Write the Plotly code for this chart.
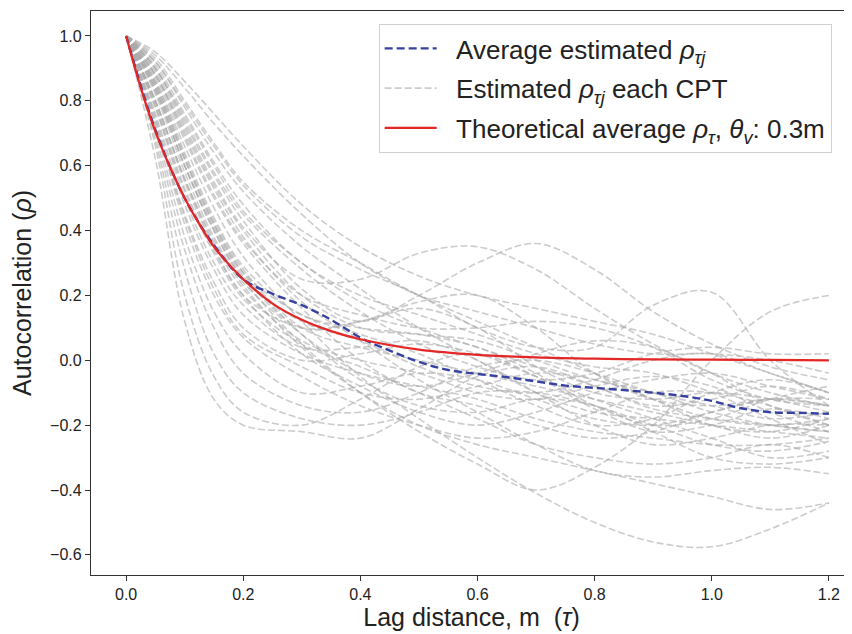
import plotly.graph_objects as go

# Lag distance grid (m)
lag = [0.0, 0.05, 0.1, 0.15, 0.2, 0.3, 0.4, 0.5, 0.6, 0.7, 0.8, 0.9, 1.0, 1.1, 1.2]

# Estimated autocorrelation for each CPT
cpt_01 = [1, .62, .12, -.12, -.20, -.22, -.24, -.15, -.05, -.02, -.08, -.15, -.18, -.20, -.22]
cpt_02 = [1, .66, .20, -.05, -.16, -.20, -.12, -.02, .02, -.05, -.15, -.22, -.20, -.15, -.18]
cpt_03 = [1, .68, .28, .02, -.10, -.18, -.20, -.16, -.10, -.10, -.14, -.20, -.26, -.28, -.25]
cpt_04 = [1, .72, .38, .15, .02, -.10, -.08, -.04, -.06, -.12, -.18, -.20, -.16, -.12, -.14]
cpt_05 = [1, .74, .42, .20, .07, -.05, -.14, -.20, -.24, -.22, -.16, -.10, -.10, -.14, -.20]
cpt_06 = [1, .75, .45, .24, .10, .00, .02, .05, .02, -.05, -.12, -.18, -.24, -.30, -.28]
cpt_07 = [1, .73, .44, .22, .08, -.02, -.10, -.12, -.08, -.04, -.06, -.12, -.20, -.22, -.18]
cpt_08 = [1, .78, .52, .33, .19, .05, -.02, -.10, -.18, -.26, -.30, -.32, -.30, -.26, -.30]
cpt_09 = [1, .80, .55, .35, .20, .10, .12, .16, .10, -.02, -.10, -.12, -.10, -.12, -.16]
cpt_10 = [1, .80, .56, .36, .22, .06, .00, -.04, -.10, -.12, -.08, -.05, -.08, -.16, -.22]
cpt_11 = [1, .79, .53, .34, .20, .02, -.08, -.16, -.20, -.16, -.10, -.06, -.04, -.08, -.12]
cpt_12 = [1, .85, .63, .43, .28, .10, .04, .00, -.04, -.08, -.12, -.16, -.20, -.24, -.20]
cpt_13 = [1, .84, .60, .40, .25, .12, .06, -.02, -.08, -.10, -.06, .00, .02, -.04, -.10]
cpt_14 = [1, .86, .64, .44, .29, .14, .10, .08, .04, -.04, -.14, -.20, -.18, -.12, -.08]
cpt_15 = [1, .85, .62, .42, .27, .08, -.06, -.14, -.16, -.12, -.14, -.22, -.30, -.32, -.30]
cpt_16 = [1, .83, .60, .41, .26, .10, .12, .18, .20, .10, -.04, -.12, -.14, -.12, -.14]
cpt_17 = [1, .88, .70, .53, .38, .18, .06, -.06, -.16, -.26, -.34, -.36, -.34, -.33, -.35]
cpt_18 = [1, .88, .71, .54, .40, .20, .10, .08, .06, .00, -.06, -.10, -.16, -.20, -.22]
cpt_19 = [1, .90, .73, .57, .43, .22, .12, .20, .30, .36, .28, .15, .05, -.02, -.06]
cpt_20 = [1, .89, .72, .55, .41, .25, .25, .33, .35, .28, .16, .05, -.04, -.10, -.14]
cpt_21 = [1, .92, .78, .64, .52, .35, .22, .10, .00, -.10, -.16, -.18, -.20, -.22, -.24]
cpt_22 = [1, .92, .79, .66, .54, .38, .28, .20, .10, .04, .04, .17, .21, .00, -.14]
cpt_23 = [1, .93, .80, .67, .55, .40, .30, .20, .12, .04, -.04, -.12, -.18, -.20, -.18]
cpt_24 = [1, .94, .84, .73, .63, .45, .30, .20, .15, .10, .05, .02, .02, .00, -.04]
cpt_25 = [1, .95, .86, .76, .66, .48, .35, .26, .20, .16, .12, .08, .02, -.04, -.10]
cpt_26 = [1, .83, .60, .40, .25, .05, -.10, -.22, -.32, -.40, -.33, -.20, .00, .15, .20]
cpt_27 = [1, .86, .66, .47, .32, .12, -.05, -.18, -.30, -.41, -.50, -.56, -.575, -.52, -.44]
cpt_28 = [1, .80, .56, .37, .23, .04, -.10, -.20, -.26, -.30, -.34, -.38, -.42, -.46, -.44]
cpt_29 = [1, .90, .74, .58, .45, .28, .15, .05, -.02, -.06, -.04, .02, .04, .02, .02]
cpt_30 = [1, .87, .68, .50, .36, .16, .00, -.10, -.14, -.20, -.24, -.22, -.16, -.12, -.12]
cpt_31 = [1, .82, .58, .38, .24, .08, -.04, -.08, -.04, .02, .06, .04, -.04, -.14, -.20]
cpt_32 = [1, .76, .48, .28, .14, .02, -.04, -.08, -.12, -.18, -.22, -.24, -.26, -.26, -.24]
cpt_33 = [1, .70, .34, .10, -.04, -.14, -.16, -.10, -.02, .00, -.04, -.10, -.14, -.18, -.16]
cpt_34 = [1, .90, .75, .60, .46, .30, .18, .10, .04, -.02, -.08, -.14, -.12, -.08, -.12]
cpt_35 = [1, .84, .62, .42, .27, .14, .08, .02, -.06, -.14, -.20, -.18, -.10, -.06, -.10]
cpt_36 = [1, .78, .50, .30, .17, .04, .04, .06, .00, -.10, -.20, -.26, -.24, -.20, -.20]
cpt_37 = [1, .88, .69, .51, .37, .20, .14, .10, .10, .12, .10, .04, -.06, -.12, -.14]
cpt_38 = [1, .91, .76, .61, .48, .30, .20, .14, .08, .02, -.02, -.04, -.10, -.18, -.26]

cpt_series = [cpt_01, cpt_02, cpt_03, cpt_04, cpt_05, cpt_06, cpt_07, cpt_08, cpt_09, cpt_10,
              cpt_11, cpt_12, cpt_13, cpt_14, cpt_15, cpt_16, cpt_17, cpt_18, cpt_19, cpt_20,
              cpt_21, cpt_22, cpt_23, cpt_24, cpt_25, cpt_26, cpt_27, cpt_28, cpt_29, cpt_30,
              cpt_31, cpt_32, cpt_33, cpt_34, cpt_35, cpt_36, cpt_37, cpt_38]

# Average estimated autocorrelation
avg_lag = [0.0, 0.05, 0.1, 0.15, 0.2, 0.25, 0.3, 0.35, 0.4, 0.45, 0.5, 0.55, 0.6, 0.65, 0.7,
           0.75, 0.8, 0.85, 0.9, 0.95, 1.0, 1.05, 1.1, 1.15, 1.2]
avg_rho = [1.0, 0.71, 0.50, 0.355, 0.25, 0.205, 0.17, 0.125, 0.07, 0.03, -0.005, -0.03, -0.042,
           -0.052, -0.065, -0.078, -0.085, -0.092, -0.10, -0.11, -0.125, -0.148, -0.16, -0.162, -0.165]

# Theoretical average (theta_v = 0.3 m)
theo_lag = [0.0, 0.025, 0.05, 0.075, 0.1, 0.125, 0.15, 0.2, 0.25, 0.3, 0.35, 0.4, 0.5, 0.6, 0.7,
            0.8, 0.9, 1.0, 1.1, 1.2]
theo_rho = [1.0, 0.84, 0.705, 0.595, 0.50, 0.42, 0.35, 0.25, 0.175, 0.125, 0.09, 0.065, 0.033,
            0.017, 0.009, 0.005, 0.003, 0.002, 0.001, 0.0]

x_ticks = [0.0, 0.2, 0.4, 0.6, 0.8, 1.0, 1.2]
y_ticks = [-0.6, -0.4, -0.2, 0.0, 0.2, 0.4, 0.6, 0.8, 1.0]

FONT = "Liberation Sans, Arial, sans-serif"
NB = "\u00a0\u00a0"

fig = go.Figure()

for i, s in enumerate(cpt_series):
    fig.add_trace(go.Scatter(
        x=lag, y=s, mode="lines", line_shape="spline",
        line=dict(color="rgba(170,170,170,0.6)", width=1.6, dash="7px,3px"),
        name=NB + "Estimated <i>ρ</i><sub><i>τj</i></sub> each CPT",
        legendgroup="g2", legendrank=2, showlegend=(i == 0), hoverinfo="skip",
    ))

fig.add_trace(go.Scatter(
    x=avg_lag, y=avg_rho, mode="lines", line_shape="spline",
    line=dict(color="rgb(55,65,160)", width=2.4, dash="8px,4px"),
    name=NB + "Average estimated <i>ρ</i><sub><i>τj</i></sub>",
    legendgroup="g1", legendrank=1,
))

fig.add_trace(go.Scatter(
    x=theo_lag, y=theo_rho, mode="lines", line_shape="spline",
    line=dict(color="rgb(228,38,38)", width=2.2),
    name=NB + "Theoretical average <i>ρ</i><sub><i>τ</i></sub>, <i>θ</i><sub><i>v</i></sub>: 0.3m",
    legendgroup="g3", legendrank=3,
))

fig.update_layout(
    width=844, height=626,
    margin=dict(l=83, r=0, t=3, b=59),
    plot_bgcolor="white", paper_bgcolor="white",
    font=dict(family=FONT, color="#222"),
    showlegend=True,
    legend=dict(
        x=0.378, y=0.977, xanchor="left", yanchor="top",
        bgcolor="rgba(255,255,255,0.85)", bordercolor="#d0d0d0", borderwidth=1,
        font=dict(size=26, family=FONT, color="#222"),
        traceorder="grouped", tracegroupgap=3, itemwidth=52,
    ),
    xaxis=dict(
        range=[-0.06, 1.2395], tickvals=x_ticks, tickformat=".1f",
        showgrid=False, zeroline=False,
        showline=True, linecolor="#333", linewidth=1.2, mirror=True,
        ticks="outside", ticklen=5, tickcolor="#333",
        tickfont=dict(size=16, family=FONT, color="#222"),
        title=dict(text="Lag distance, m  (<i>τ</i>)", font=dict(size=25, family=FONT, color="#222"), standoff=6),
    ),
    yaxis=dict(
        range=[-0.662, 1.077], tickvals=y_ticks, tickformat=".1f",
        showgrid=False, zeroline=False,
        showline=True, linecolor="#333", linewidth=1.2, mirror=False,
        ticks="outside", ticklen=5, tickcolor="#333",
        tickfont=dict(size=16, family=FONT, color="#222"),
        title=dict(text="Autocorrelation (<i>ρ</i>)", font=dict(size=25, family=FONT, color="#222"), standoff=16),
    ),
)

fig.write_html("out.html")
